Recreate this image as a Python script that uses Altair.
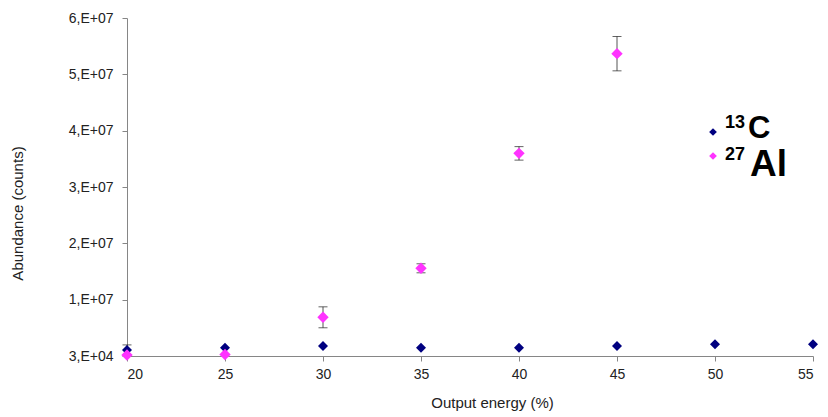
import altair as alt
import pandas as pd

# ---- data ----
energy = [20, 25, 30, 35, 40, 45, 50, 55]
c13 = [1.1e6, 1.5e6, 1.8e6, 1.5e6, 1.5e6, 1.8e6, 2.1e6, 2.1e6]
c13_err = [0.9e6, 0, 0, 0, 0, 0, 0, 0]

al_energy = [20, 25, 30, 35, 40, 45]
al27 = [0.2e6, 0.3e6, 6.9e6, 1.56e7, 3.6e7, 5.37e7]
al27_err = [0, 0, 1.86e6, 0.8e6, 1.2e6, 3.05e6]

x_ticks = [20, 25, 30, 35, 40, 45, 50, 55]
y_ticks = [3e4, 1.003e7, 2.003e7, 3.003e7, 4.003e7, 5.003e7, 6.003e7]
y_tick_labels = ["3,E+04", "1,E+07", "2,E+07", "3,E+07", "4,E+07", "5,E+07", "6,E+07"]

series_sup = ["13", "27"]
series_elem = ["C", "Al"]
series_colors = ["#000080", "#FF33FF"]

# ---- tables ----
df_c = pd.DataFrame({"energy": energy, "val": c13, "err": c13_err})
df_c["lo"] = df_c["val"] - df_c["err"]
df_c["hi"] = df_c["val"] + df_c["err"]
df_a = pd.DataFrame({"energy": al_energy, "val": al27, "err": al27_err})
df_a["lo"] = df_a["val"] - df_a["err"]
df_a["hi"] = df_a["val"] + df_a["err"]

label_expr = "[" + ",".join("'%s'" % s for s in y_tick_labels) + "][round((datum.value-30000)/10000000)]"

xscale = alt.Scale(domain=[20, 55], nice=False, zero=False)
yscale = alt.Scale(domain=[3e4, 6.003e7], nice=False, zero=False)

axis_common = dict(
    grid=False, domainColor="#868686", tickColor="#868686", tickSize=5,
    labelFont="Liberation Sans", labelFontSize=14, labelColor="#222222",
    titleFont="Liberation Sans", titleFontSize=15, titleFontWeight="normal",
    titleColor="#222222",
)

x_axis = alt.Axis(values=x_ticks, title="Output energy (%)", labelPadding=6,
                  titleX=365, titleY=46, titleBaseline="middle", **axis_common)
y_axis = alt.Axis(values=y_ticks, labelExpr=label_expr, title="Abundance (counts)",
                  labelPadding=9, titleX=-110, titleY=195, titleBaseline="middle",
                  **axis_common)


def X():
    return alt.X("energy:Q", scale=xscale, axis=x_axis)


def Y(field):
    return alt.Y(field + ":Q", scale=yscale, axis=y_axis)


def err_layers(df):
    d = df[df["err"] > 0]
    base = alt.Chart(d)
    rule = base.mark_rule(color="#555555", strokeWidth=1).encode(
        x=X(), y=Y("lo"), y2="hi:Q")
    cap_lo = base.mark_tick(color="#222222", orient="horizontal", size=9, thickness=1).encode(
        x=X(), y=Y("lo"))
    cap_hi = base.mark_tick(color="#222222", orient="horizontal", size=9, thickness=1).encode(
        x=X(), y=Y("hi"))
    return [rule, cap_lo, cap_hi]


pts_c = alt.Chart(df_c).mark_point(shape="diamond", filled=True, size=100, opacity=1,
                                   color=series_colors[0]).encode(x=X(), y=Y("val"))
pts_a = alt.Chart(df_a).mark_point(shape="diamond", filled=True, size=130, opacity=1,
                                   color=series_colors[1]).encode(x=X(), y=Y("val"))

# ---- custom legend with superscripts (positions in plot-area pixels) ----
leg = pd.DataFrame({"sup": series_sup, "elem": series_elem, "color": series_colors})
leg_rows = []
sym_y = [114, 138]
sup_y = [110, 142]
elem_x = [621, 623]
elem_y = [120, 158]
elem_size = [31, 37]
for i in range(len(leg)):
    row = leg.iloc[[i]]
    leg_rows.append(alt.Chart(row).mark_point(
        shape="diamond", filled=True, size=60, opacity=1, color=series_colors[i]).encode(
        x=alt.value(586), y=alt.value(sym_y[i])))
    leg_rows.append(alt.Chart(row).mark_text(
        align="left", baseline="alphabetic", font="Liberation Sans", fontWeight="bold",
        fontSize=18, color="#000000").encode(x=alt.value(598), y=alt.value(sup_y[i]), text="sup:N"))
    leg_rows.append(alt.Chart(row).mark_text(
        align="left", baseline="alphabetic", font="Liberation Sans", fontWeight="bold",
        fontSize=elem_size[i], color="#000000").encode(
        x=alt.value(elem_x[i]), y=alt.value(elem_y[i]), text="elem:N"))

layers = err_layers(df_c) + [pts_c] + err_layers(df_a) + [pts_a] + leg_rows

chart = alt.layer(*layers).properties(
    width=686, height=338, autosize="none", background="#ffffff",
    padding={"left": 127, "top": 18, "right": 15, "bottom": 61},
).configure_view(stroke=None)

chart.save("out.html", embed_options={"renderer": "svg", "actions": False})
